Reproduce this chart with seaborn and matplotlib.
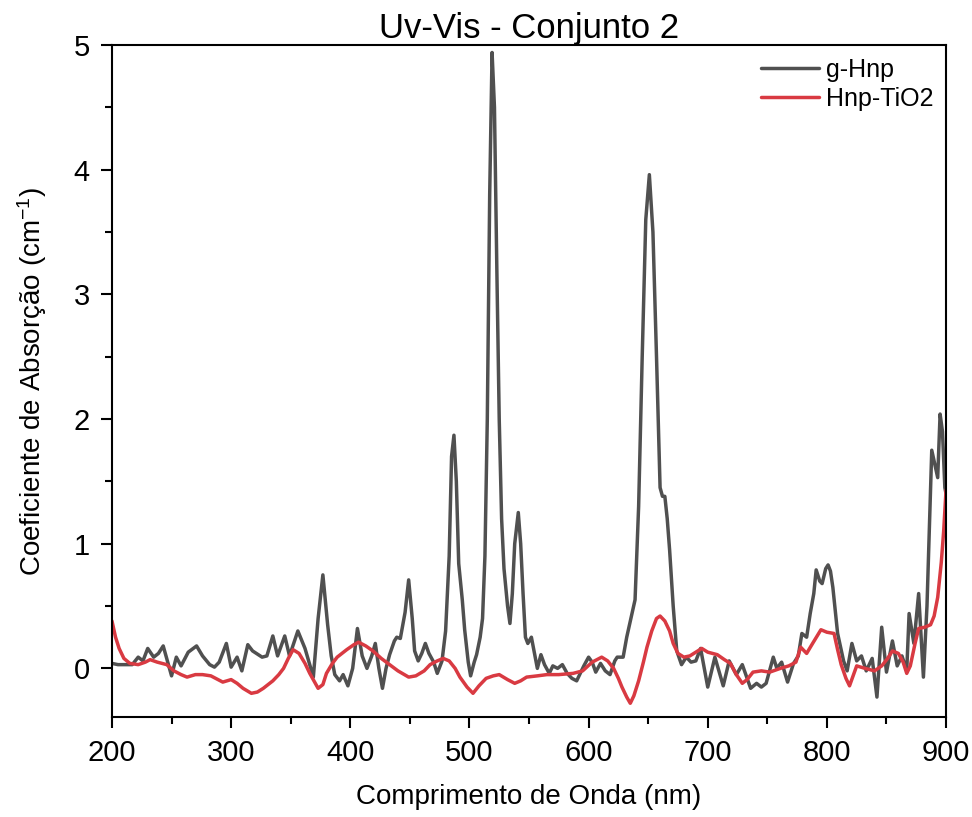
import numpy as np
import pandas as pd
import matplotlib
matplotlib.use("Agg")
import matplotlib.pyplot as plt
import seaborn as sns
from matplotlib.ticker import MultipleLocator

# ---- data ----
wl_ghnp = [200, 205, 210, 217, 222, 226, 230, 235, 239, 243, 250, 254, 258, 264, 271, 276, 282, 286, 290, 296,
           300, 305, 309, 314, 318, 326, 330, 335, 339, 345, 349, 356, 362, 369, 373, 377, 381, 384, 387, 391,
           394, 398, 402, 406, 410, 414, 418, 421, 424, 427, 430, 433, 437, 439, 442, 446, 449, 452, 454, 457,
           460, 463, 466, 470, 473, 477, 480, 483, 485, 487, 489, 491, 494, 496, 499, 501, 504, 506, 509, 511,
           513, 515, 517, 519, 521, 523, 525, 527, 529, 532, 534, 536, 538, 541, 543, 545, 547, 549, 552, 555,
           557, 560, 563, 567, 570, 574, 578, 582, 586, 590, 596, 600, 603, 606, 610, 614, 618, 622, 624, 629,
           632, 635, 639, 642, 645, 648, 651, 654, 657, 660, 662, 664, 666, 668, 671, 674, 678, 682, 686, 690,
           694, 700, 706, 713, 718, 724, 729, 736, 741, 745, 749, 755, 758, 762, 767, 772, 776, 779, 783, 786,
           789, 791, 794, 796, 799, 801, 803, 805, 809, 814, 817, 821, 825, 829, 833, 838, 842, 846, 850, 855,
           859, 863, 867, 869, 873, 877, 881, 884, 888, 891, 893, 895, 897, 899, 900]
abs_ghnp = [0.04, 0.03, 0.03, 0.03, 0.09, 0.06, 0.16, 0.09, 0.12, 0.18, -0.06, 0.09, 0.02, 0.13, 0.18, 0.10, 0.03, 0.01, 0.05, 0.20,
            0.01, 0.09, -0.02, 0.19, 0.14, 0.09, 0.10, 0.26, 0.10, 0.26, 0.10, 0.30, 0.16, -0.07, 0.40, 0.75, 0.35, 0.10, -0.05, -0.10,
            -0.05, -0.14, 0.00, 0.32, 0.10, 0.00, 0.10, 0.20, 0.00, -0.16, 0.00, 0.11, 0.22, 0.25, 0.24, 0.45, 0.71, 0.40, 0.14, 0.06,
            0.12, 0.20, 0.12, 0.05, -0.04, 0.06, 0.30, 0.90, 1.70, 1.87, 1.50, 0.84, 0.55, 0.31, 0.05, -0.06, 0.05, 0.11, 0.25, 0.40,
            0.90, 2.00, 3.80, 4.94, 4.50, 3.20, 2.00, 1.20, 0.80, 0.50, 0.36, 0.60, 1.00, 1.25, 1.00, 0.60, 0.25, 0.20, 0.25, 0.10,
            0.00, 0.11, 0.03, -0.04, 0.02, 0.00, 0.03, -0.04, -0.08, -0.10, 0.02, 0.09, 0.05, -0.03, 0.04, -0.02, -0.05, 0.06, 0.09, 0.09,
            0.25, 0.38, 0.55, 1.30, 2.50, 3.60, 3.96, 3.50, 2.50, 1.45, 1.38, 1.38, 1.20, 0.95, 0.50, 0.14, 0.03, 0.09, 0.05, 0.06,
            0.16, -0.15, 0.09, -0.14, 0.06, -0.05, 0.03, -0.16, -0.12, -0.15, -0.12, 0.09, 0.00, 0.05, -0.11, 0.04, 0.10, 0.28, 0.25, 0.44,
            0.60, 0.79, 0.70, 0.68, 0.80, 0.83, 0.78, 0.65, 0.28, 0.06, -0.02, 0.20, 0.06, 0.10, -0.02, 0.08, -0.23, 0.33, -0.03, 0.22,
            0.02, 0.10, -0.02, 0.44, 0.20, 0.60, -0.07, 0.50, 1.75, 1.62, 1.53, 2.04, 1.90, 1.45, 1.40]

wl_tio2 = [200, 203, 206, 210, 215, 222, 228, 232, 238, 246, 252, 258, 263, 270, 276, 283, 293, 300, 305, 310,
           317, 322, 327, 335, 340, 344, 348, 352, 357, 362, 366, 373, 377, 380, 385, 389, 397, 403, 407, 413,
           419, 426, 433, 440, 449, 455, 462, 467, 473, 478, 483, 488, 492, 498, 503, 508, 514, 520, 525, 532,
           538, 543, 548, 557, 565, 575, 587, 595, 603, 611, 616, 621, 625, 628, 632, 635, 638, 642, 646, 649,
           653, 657, 660, 664, 668, 671, 675, 680, 685, 690, 695, 700, 708, 714, 719, 724, 729, 733, 738, 745,
           752, 761, 768, 774, 778, 783, 788, 795, 800, 806, 809, 812, 816, 819, 822, 825, 832, 840, 846, 851,
           855, 860, 864, 867, 870, 874, 877, 882, 887, 890, 893, 896, 898, 900]
abs_tio2 = [0.38, 0.25, 0.16, 0.08, 0.04, 0.03, 0.05, 0.07, 0.05, 0.03, -0.02, -0.05, -0.07, -0.05, -0.05, -0.06, -0.11, -0.09, -0.12, -0.16,
            -0.20, -0.19, -0.16, -0.10, -0.05, 0.00, 0.08, 0.15, 0.12, 0.04, -0.04, -0.16, -0.13, -0.04, 0.04, 0.09, 0.15, 0.19, 0.21, 0.18,
            0.14, 0.08, 0.03, -0.02, -0.07, -0.06, -0.02, 0.03, 0.06, 0.08, 0.06, 0.00, -0.07, -0.15, -0.20, -0.14, -0.08, -0.06, -0.05, -0.09,
            -0.12, -0.10, -0.07, -0.06, -0.05, -0.05, -0.04, -0.02, 0.05, 0.09, 0.06, 0.00, -0.08, -0.15, -0.23, -0.28, -0.22, -0.10, 0.05, 0.17,
            0.30, 0.40, 0.42, 0.38, 0.30, 0.20, 0.12, 0.09, 0.10, 0.13, 0.16, 0.13, 0.11, 0.07, 0.04, -0.05, -0.12, -0.09, -0.03, -0.02,
            -0.03, 0.00, 0.02, 0.05, 0.17, 0.12, 0.20, 0.31, 0.29, 0.28, 0.15, 0.03, -0.08, -0.14, -0.06, 0.02, 0.00, -0.02, 0.02, 0.08,
            0.14, 0.12, 0.05, -0.04, 0.02, 0.20, 0.32, 0.33, 0.35, 0.42, 0.57, 0.85, 1.10, 1.43]

series_names = ["g-Hnp", "Hnp-TiO2"]
title = "Uv-Vis - Conjunto 2"
xlabel = "Comprimento de Onda (nm)"
ylabel = r"Coeficiente de Absorção (cm$^{-1}$)"

df = pd.concat([
    pd.DataFrame({"wl": wl_ghnp, "val": abs_ghnp, "amostra": series_names[0]}),
    pd.DataFrame({"wl": wl_tio2, "val": abs_tio2, "amostra": series_names[1]}),
], ignore_index=True)

# ---- style ----
sns.set_theme(style="ticks")
plt.rcParams["font.family"] = ["Liberation Sans", "DejaVu Sans"]
plt.rcParams["mathtext.fontset"] = "custom"
plt.rcParams["mathtext.rm"] = "Liberation Sans"
plt.rcParams["mathtext.it"] = "Liberation Sans:italic"
plt.rcParams["text.color"] = "black"
plt.rcParams["axes.labelcolor"] = "black"
plt.rcParams["xtick.color"] = "black"
plt.rcParams["ytick.color"] = "black"

fig = plt.figure(figsize=(9.72, 8.17), dpi=100)
ax = fig.add_axes([0.1152, 0.1224, 0.8581, 0.8225])

palette = {series_names[0]: "#505050", series_names[1]: "#d93a42"}
sns.lineplot(data=df, x="wl", y="val", hue="amostra", palette=palette,
             estimator=None, sort=True, linewidth=2.5, ax=ax)

ax.set_xlim(200, 900)
ax.set_ylim(-0.39, 5.0)
ax.xaxis.set_major_locator(MultipleLocator(100))
ax.xaxis.set_minor_locator(MultipleLocator(50))
ax.yaxis.set_major_locator(MultipleLocator(1))
ax.yaxis.set_minor_locator(MultipleLocator(0.5))
ax.tick_params(which="major", direction="out", length=8, width=1.5, labelsize=21, pad=8)
ax.tick_params(which="minor", direction="out", length=5, width=1.5)
for s in ax.spines.values():
    s.set_visible(True)
    s.set_linewidth(1.5)
    s.set_color("black")

ax.set_title(title, fontsize=25, pad=5, color="black")
ax.set_xlabel(xlabel, fontsize=20, labelpad=12)
ax.set_ylabel(ylabel, fontsize=20, labelpad=18)

leg = ax.legend(loc="upper right", frameon=False, fontsize=18, handlelength=2.3,
                borderaxespad=0.1, handletextpad=0.3, labelspacing=0.2)
for line in leg.get_lines():
    line.set_linewidth(2.5)

fig.savefig("out.png", dpi=100)
